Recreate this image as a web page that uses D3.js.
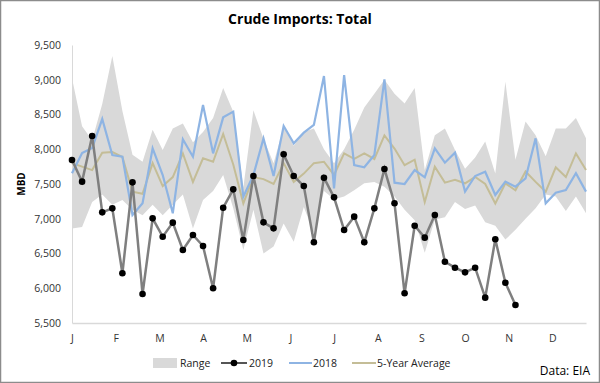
<!DOCTYPE html>
<html>
<head>
<meta charset="utf-8">
<script src="https://cdn.jsdelivr.net/npm/d3@7"></script>
<style>
  html, body { margin: 0; padding: 0; background: #fff; }
  svg { display: block; }
  text { font-family: "Open Sans", "Liberation Sans", sans-serif; fill: #222; }
</style>
</head>
<body>
<svg id="chart" width="600" height="383"></svg>
<script>
// ---- data (weekly, 52 weeks) ----
const months = ["J","F","M","A","M","J","J","A","S","O","N","D"];
const yTicks = [5500, 6000, 6500, 7000, 7500, 8000, 8500, 9000, 9500];

const rangeHigh = [9020, 8330, 8130, 8650, 9340, 8550, 7920, 7820, 8280, 7990, 8300, 8370, 8100,
  8250, 8450, 8880, 8540, 7450, 8560, 8150, 7800, 8320, 8050, 8250, 8300, 8000,
  7800, 8000, 8280, 8600, 8800, 9000, 8800, 8660, 8880, 7700, 8200, 8300, 7990,
  7720, 7880, 8110, 7650, 8970, 7850, 8400, 8200, 7900, 8300, 8300, 8450, 8160];

const rangeLow = [6860, 6880, 7240, 7350, 7200, 7270, 7130, 7050, 7200, 7050, 7200, 7350, 6860,
  7270, 7400, 7630, 7150, 6550, 7130, 6500, 6600, 6930, 6670, 7170, 6790, 7400,
  7280, 7320, 7410, 7510, 7530, 7460, 7320, 7130, 6980, 6510, 6990, 7020, 7240,
  7140, 7190, 6950, 6900, 6700, 6840, 7000, 7150, 7350, 7320, 7110, 7320, 7080];

const y2019 = [7845, 7534, 8191, 7092, 7150, 6215, 7524, 5917, 7006, 6742, 6944, 6550, 6766,
  6608, 5999, 7159, 7423, 6694, 7615, 6948, 6862, 7927, 7615, 7471, 6661, 7591,
  7308, 6838, 7030, 6661, 7150, 7716, 7222, 5927, 6900, 6728, 7054, 6382, 6296,
  6229, 6296, 5865, 6704, 6080, 5759];

const y2018 = [7654, 7946, 8018, 8435, 7917, 7893, 7054, 7222, 8013, 7629, 7078, 8143, 7893,
  8637, 7941, 8459, 8541, 7318, 7629, 8157, 7615, 8335, 8085, 8239, 8349, 9054,
  7438, 9068, 7773, 7740, 7917, 9006, 7519, 7500, 7701, 7596, 8013, 7807, 7951,
  7390, 7615, 7677, 7342, 7534, 7462, 7582, 8157, 7222, 7375, 7414, 7654, 7390];

const avg5 = [7800, 7750, 7700, 7950, 7960, 7890, 7390, 7360, 7800, 7470, 7600, 7940, 7530,
  7870, 7820, 8220, 7780, 7220, 7600, 7570, 7500, 7800, 7530, 7650, 7800, 7820,
  7630, 7940, 7860, 7940, 7860, 8200, 8010, 7770, 7850, 7240, 7750, 7520, 7560,
  7510, 7600, 7500, 7220, 7510, 7410, 7680, 7530, 7390, 7740, 7600, 7940, 7700];

const legendItems = ["Range", "2019", "2018", "5-Year Average"];

// ---- layout ----
const svg = d3.select("#chart");
const W = 600, H = 383;
const plot = { left: 72, right: 586, top: 45, bottom: 323 };

svg.append("rect").attr("x", 0.5).attr("y", 0.5).attr("width", W - 1).attr("height", H - 1)
  .attr("fill", "#fff").attr("stroke", "#8c8c8c").attr("stroke-width", 1.5);

const x = d3.scaleLinear().domain([0, 51]).range([plot.left, plot.right]);
const y = d3.scaleLinear().domain([5500, 9500]).range([plot.bottom, plot.top]);

// title
svg.append("text").attr("x", 300).attr("y", 24).attr("text-anchor", "middle")
  .style("font-size", "14px").style("font-weight", "bold").style("fill", "#000")
  .text("Crude Imports: Total");

// y axis title
svg.append("text").attr("transform", `translate(25,${(plot.top + plot.bottom) / 2}) rotate(-90)`)
  .attr("text-anchor", "middle").style("font-size", "10px").style("font-weight", "bold")
  .style("fill", "#000").text("MBD");

// range area
const area = d3.area().x((d, i) => x(i)).y0((d, i) => y(rangeLow[i])).y1(d => y(d));
svg.append("path").datum(rangeHigh).attr("d", area).attr("fill", "#d9d9d9");

// axes
const yAxis = d3.axisLeft(y).tickValues(yTicks).tickFormat(d3.format(",")).tickSize(0).tickPadding(11);
const gy = svg.append("g").attr("transform", `translate(${plot.left},0)`).call(yAxis);
gy.select(".domain").attr("stroke", "#d9d9d9");
gy.selectAll("text").style("font-size", "10.5px").style("fill", "#333").style("font-family", "'Open Sans', sans-serif");

const xAxis = d3.axisBottom(x).tickValues(months.map((m, i) => i * 52 / 12))
  .tickFormat((d, i) => months[i]).tickSize(0).tickPadding(12);
const gx = svg.append("g").attr("transform", `translate(0,${plot.bottom})`).call(xAxis);
gx.select(".domain").attr("stroke", "#d9d9d9").attr("stroke-width", 1.5);
gx.selectAll("text").style("font-size", "10.5px").style("fill", "#333").style("font-family", "'Open Sans', sans-serif");

const line = d3.line().x((d, i) => x(i)).y(d => y(d));

// 5-year average
svg.append("path").datum(avg5).attr("d", line).attr("fill", "none")
  .attr("stroke", "#c4bd97").attr("stroke-width", 2);
// 2018
svg.append("path").datum(y2018).attr("d", line).attr("fill", "none")
  .attr("stroke", "#8eb4e3").attr("stroke-width", 2.2);
// 2019
svg.append("path").datum(y2019).attr("d", line).attr("fill", "none")
  .attr("stroke", "#7f7f7f").attr("stroke-width", 2.5);
svg.append("g").selectAll("circle").data(y2019).join("circle")
  .attr("cx", (d, i) => x(i)).attr("cy", d => y(d)).attr("r", 3.3).attr("fill", "#000");

// legend
const ly = 363;
const lg = svg.append("g").style("font-size", "10.5px");
lg.append("rect").attr("x", 153).attr("y", ly - 5).attr("width", 24).attr("height", 10).attr("fill", "#d9d9d9");
lg.append("text").attr("x", 180).attr("y", ly + 4).text(legendItems[0]);
lg.append("line").attr("x1", 221).attr("x2", 247).attr("y1", ly).attr("y2", ly).attr("stroke", "#555").attr("stroke-width", 2);
lg.append("circle").attr("cx", 234).attr("cy", ly).attr("r", 3.3).attr("fill", "#000");
lg.append("text").attr("x", 249).attr("y", ly + 4).text(legendItems[1]);
lg.append("line").attr("x1", 289).attr("x2", 312).attr("y1", ly).attr("y2", ly).attr("stroke", "#8eb4e3").attr("stroke-width", 2);
lg.append("text").attr("x", 313).attr("y", ly + 4).text(legendItems[2]);
lg.append("line").attr("x1", 352).attr("x2", 376).attr("y1", ly).attr("y2", ly).attr("stroke", "#c4bd97").attr("stroke-width", 2);
lg.append("text").attr("x", 377).attr("y", ly + 4).text(legendItems[3]);

svg.append("text").attr("x", 590).attr("y", 375).attr("text-anchor", "end")
  .style("font-size", "12px").style("fill", "#000").text("Data: EIA");
</script>
</body>
</html>
